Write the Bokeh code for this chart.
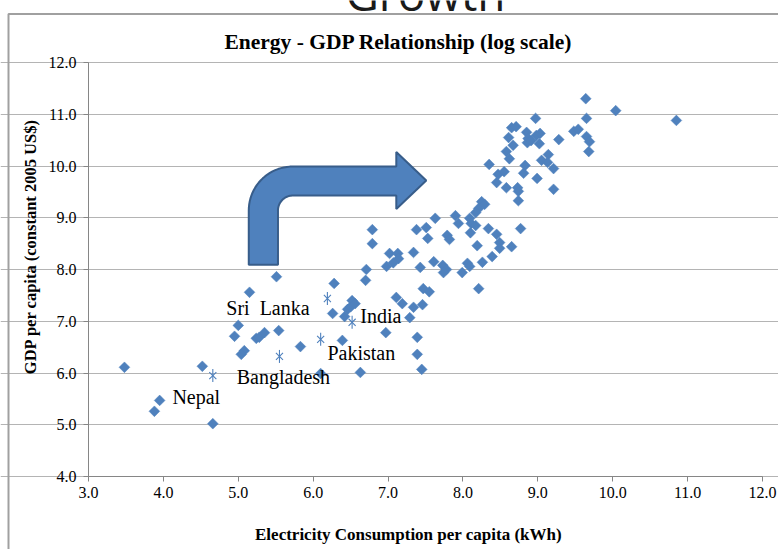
import numpy as np
from bokeh.plotting import figure
from bokeh.models import Range1d, Label, FixedTicker, PrintfTickFormatter
from bokeh.core.properties import value
from bokeh.embed import file_html
from bokeh.resources import INLINE

# ---------------- data (log scale values) ----------------
elec = [3.48, 4.52, 3.95, 3.88, 4.66, 5.15, 5.51, 5.00, 4.95, 5.08,
        5.04, 5.24, 5.28, 5.35, 5.54, 5.83, 6.28, 6.26, 6.42, 6.46,
        6.50, 6.52, 6.56, 6.39, 6.10, 6.63, 6.97, 7.39, 7.39, 7.45,
        7.29, 7.19, 7.11, 7.34, 7.46, 7.47, 7.55, 6.71, 6.70, 6.79,
        6.79, 6.98, 7.02, 7.13, 7.14, 7.07, 7.34, 7.43, 7.61, 7.73,
        7.78, 7.74, 7.99, 8.06, 8.09, 8.26, 8.39, 8.21, 7.38, 7.51,
        7.53, 7.63, 7.79, 7.82, 7.90, 7.94, 8.09, 8.11, 8.17, 8.10,
        8.25, 8.21, 8.17, 8.29, 8.34, 8.45, 8.49, 8.49, 8.65, 8.77,
        8.35, 8.47, 8.55, 8.45, 8.58, 8.73, 8.74, 8.74, 8.83, 8.81,
        8.99, 9.14, 9.05, 9.13, 9.21, 9.21, 8.58, 8.62, 8.67, 8.61,
        8.65, 8.71, 8.97, 8.85, 8.87, 8.86, 8.91, 8.98, 9.03, 9.02,
        9.28, 9.48, 9.54, 9.65, 9.69, 9.68, 9.64, 9.65, 10.04, 10.85,
        8.19]
gdp = [6.11, 6.13, 5.47, 5.26, 5.02, 7.56, 7.86, 6.92, 6.71, 6.43,
       6.36, 6.67, 6.69, 6.78, 6.82, 6.51, 7.73, 7.15, 7.09, 7.23,
       7.28, 7.40, 7.34, 6.63, 5.99, 6.01, 6.78, 6.69, 6.36, 6.07,
       7.07, 7.34, 7.46, 7.27, 7.32, 7.63, 7.57, 8.00, 7.79, 8.77,
       8.50, 8.06, 8.31, 8.31, 8.21, 8.13, 8.33, 8.04, 8.15, 8.08,
       8.00, 7.94, 7.94, 8.12, 8.06, 8.14, 8.25, 7.63, 8.77, 8.81,
       8.60, 8.99, 8.66, 8.58, 9.04, 8.89, 8.99, 8.89, 8.85, 8.71,
       9.31, 9.18, 9.10, 9.26, 8.79, 8.68, 8.52, 8.41, 8.44, 8.79,
       10.03, 9.84, 9.89, 9.68, 9.58, 9.58, 9.51, 9.33, 10.01, 9.86,
       9.76, 10.22, 10.11, 10.07, 9.95, 9.55, 10.28, 10.14, 10.40, 10.55,
       10.74, 10.76, 10.92, 10.65, 10.53, 10.45, 10.49, 10.59, 10.63, 10.43,
       10.51, 10.67, 10.71, 10.57, 10.47, 10.28, 11.30, 10.92, 11.07, 10.88,
       8.46]

star_countries = ["Nepal", "Bangladesh", "Sri Lanka", "Pakistan", "India"]
star_elec = [4.66, 5.55, 6.19, 6.10, 6.52]
star_gdp = [5.95, 6.32, 7.44, 6.65, 6.98]

label_text = ["Nepal", "Bangladesh", "Sri\u00a0 Lanka", "Pakistan", "India"]

x_ticks = [3, 4, 5, 6, 7, 8, 9, 10, 11, 12]
y_ticks = [4, 5, 6, 7, 8, 9, 10, 11, 12]
x_tick_labels = ["3.0", "4.0", "5.0", "6.0", "7.0", "8.0", "9.0", "10.0", "11.0", "12.0"]
y_tick_labels = ["4.0", "5.0", "6.0", "7.0", "8.0", "9.0", "10.0", "11.0", "12.0"]

title_text = "Energy - GDP Relationship (log scale)"
x_title = "Electricity Consumption per capita (kWh)"
y_title = "GDP per capita (constant 2005 US$)"
slide_title = "Growth"

# ---------------- layout: the frame fills the canvas, axes sit at fixed data locations ----
W, H = 778, 549
X0PX, SX = 88.0, (762.0 - 88.0) / 9.0     # pixel of x=3, pixels per unit
Y0PX, SY = 62.0, (476.0 - 62.0) / 8.0     # pixel of y=12, pixels per unit


def px2x(px):
    return 3 + (px - X0PX) / SX


def px2y(py):
    return 12 - (py - Y0PX) / SY


BLUE = "#4f81bd"
SERIF = "Liberation Serif"

p = figure(width=W, height=H, output_backend="svg", toolbar_location=None,
           x_range=Range1d(px2x(0), px2x(W)), y_range=Range1d(px2y(H), px2y(0)),
           min_border_left=0, min_border_right=0, min_border_top=0, min_border_bottom=0)
p.outline_line_color = None
p.background_fill_color = "white"
p.border_fill_color = "white"

xa, ya = p.xaxis[0], p.yaxis[0]
xa.fixed_location = y_ticks[0]      # x axis drawn at y = 4
ya.fixed_location = x_ticks[0]      # y axis drawn at x = 3
xa.bounds = (x_ticks[0], x_ticks[-1])
ya.bounds = (y_ticks[0], y_ticks[-1])
xa.ticker = FixedTicker(ticks=x_ticks)
ya.ticker = FixedTicker(ticks=y_ticks)
p.axis.formatter = PrintfTickFormatter(format="")
p.axis.major_label_text_alpha = 0
p.axis.axis_line_color = "#868686"
p.axis.major_tick_line_color = "#868686"
p.axis.major_tick_out = 5
p.axis.major_tick_in = 0
p.axis.minor_tick_line_color = None

p.xgrid.visible = False
p.ygrid.grid_line_color = "#b4b4b4"
p.ygrid.grid_line_width = 1
p.ygrid.bounds = (x_ticks[0], x_ticks[-1])

# tick labels, placed at the tick values through the plot scales
p.text(x=x_ticks, y=[px2y(492)] * len(x_ticks), text=x_tick_labels,
       text_font=value(SERIF), text_font_size="16px", text_color="black",
       text_align="center", text_baseline="middle")
p.text(x=[px2x(76)] * len(y_ticks), y=y_ticks, text=y_tick_labels,
       text_font=value(SERIF), text_font_size="16px", text_color="black",
       text_align="right", text_baseline="middle")

# chart-area border (top and left lines)
p.line([px2x(W + 5), px2x(8), px2x(8)], [px2y(13.5), px2y(13.5), px2y(H + 5)],
       line_color="#a0a0a0", line_width=2)

# bent arrow
stem_l, stem_r, stem_b = 5.14, 5.53, 8.09
band_t, band_b = 9.99, 9.43
head_base, head_t, head_b = 7.11, 10.27, 9.17
tip_x, tip_y = 7.51, 9.72
R, r = 44.0, 15.0
cxo, cyo = stem_l + R / SX, band_t - R / SY
cxi, cyi = stem_r + r / SX, band_b - r / SY
th = np.linspace(0, np.pi / 2, 24)
arr_x = [stem_l] + list(cxo - R / SX * np.cos(th)) + [head_base, head_base, tip_x, head_base, head_base] \
        + list(cxi - r / SX * np.cos(th[::-1])) + [stem_r]
arr_y = [stem_b] + list(cyo + R / SY * np.sin(th)) + [band_t, head_t, tip_y, head_b, band_b] \
        + list(cyi + r / SY * np.sin(th[::-1])) + [stem_b]
p.patch(arr_x, arr_y, fill_color=BLUE, line_color="#385d8a", line_width=2)

# data points
p.scatter(elec, gdp, marker="square", angle=np.pi / 4, size=7.6,
          fill_color=BLUE, line_color=BLUE, line_width=0.5)
p.scatter(star_elec, star_gdp, marker="x", size=10, line_color=BLUE, line_width=1.1)
p.scatter(star_elec, star_gdp, marker="dash", angle=np.pi / 2, size=13, line_color=BLUE, line_width=1.1)

# country labels (placed beside their markers)
label_x = [4.12, 4.98, 4.84, 6.19, 6.63]
label_y = [5.53, 5.93, 7.25, 6.38, 7.11]
for t, lx, ly in zip(label_text, label_x, label_y):
    p.add_layout(Label(x=lx, y=ly, text=t, text_font=SERIF, text_font_size="20px",
                       text_color="black", text_align="left", text_baseline="middle"))

# titles
p.add_layout(Label(x=px2x(398), y=px2y(41), text=title_text, text_font=SERIF,
                   text_font_size="21.5px", text_font_style="bold", text_color="black",
                   text_align="center", text_baseline="middle"))
p.add_layout(Label(x=px2x(408), y=px2y(534), text=x_title, text_font=SERIF,
                   text_font_size="17px", text_font_style="bold", text_color="black",
                   text_align="center", text_baseline="middle"))
p.add_layout(Label(x=px2x(30), y=px2y(246), text=y_title, text_font=SERIF, angle=np.pi / 2,
                   text_font_size="16.5px", text_font_style="bold", text_color="black",
                   text_align="center", text_baseline="middle"))
p.add_layout(Label(x=px2x(425), y=px2y(-8), text=slide_title, text_font="Open Sans",
                   text_font_size="46px", text_color="#1a1a1a",
                   text_align="center", text_baseline="alphabetic"))

open("out.html", "w").write(file_html(p, INLINE))
